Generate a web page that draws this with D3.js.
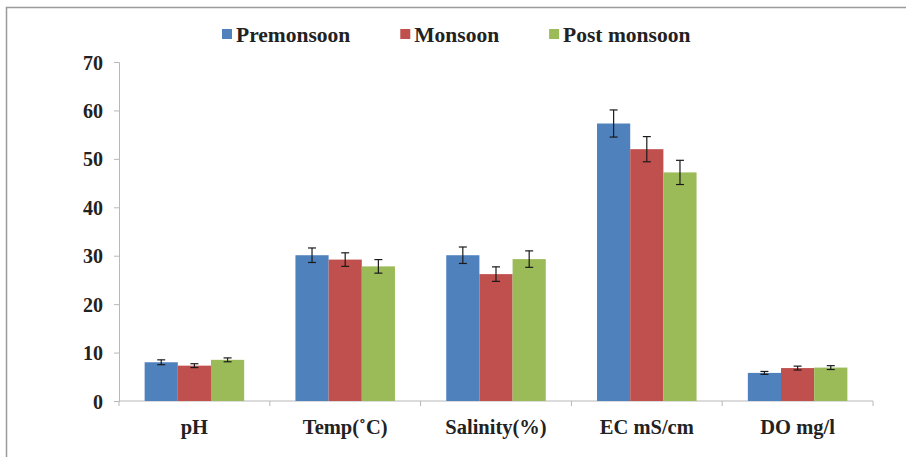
<!DOCTYPE html>
<html>
<head>
<meta charset="utf-8">
<script src="https://cdn.jsdelivr.net/npm/d3@7"></script>
<style>
  body { margin: 0; background: #fff; }
</style>
</head>
<body>
<div id="chart"></div>
<script>
// data
var categories = ["pH", "Temp(\u02DAC)", "Salinity(%)", "EC mS/cm", "DO mg/l"];
var seasons = ["Premonsoon", "Monsoon", "Post monsoon"];
var colors = ["#4F81BD", "#C0504D", "#9BBB59"];

var premonsoon = [8.0, 30.1, 30.1, 57.3, 5.8];
var monsoon = [7.3, 29.2, 26.2, 52.0, 6.8];
var postmonsoon = [8.5, 27.8, 29.3, 47.2, 6.9];

var premonsoonErr = [0.5, 1.5, 1.7, 2.8, 0.3];
var monsoonErr = [0.4, 1.4, 1.5, 2.6, 0.4];
var postmonsoonErr = [0.4, 1.4, 1.7, 2.5, 0.4];

var yTicks = [0, 10, 20, 30, 40, 50, 60, 70];

var series = [premonsoon, monsoon, postmonsoon];
var errors = [premonsoonErr, monsoonErr, postmonsoonErr];

var FONT = "'Liberation Serif', 'Times New Roman', Tinos, 'DejaVu Serif', serif";

var width = 906, height = 457;
var margin = {left: 119, right: 33, top: 62, bottom: 56};

var svg = d3.select("#chart").append("svg")
    .attr("width", width)
    .attr("height", height);

// outer frame
svg.append("rect")
    .attr("x", 6.5).attr("y", 7.5)
    .attr("width", width).attr("height", height)
    .attr("fill", "none")
    .attr("stroke", "#9a9a9a")
    .attr("stroke-width", 1.5);

var x = d3.scaleBand()
    .domain(categories)
    .range([margin.left, width - margin.right])
    .paddingInner(0.34)
    .paddingOuter(0.17);

var xs = d3.scaleBand()
    .domain(d3.range(seasons.length))
    .range([0, x.bandwidth()]);

var y = d3.scaleLinear()
    .domain([0, 70])
    .range([height - margin.bottom, margin.top]);

function styleText(sel, size) {
    sel.style("font-family", FONT)
        .style("font-weight", "bold")
        .style("font-size", size + "px")
        .attr("fill", "#222");
}

// y axis
var yAxis = svg.append("g")
    .attr("transform", "translate(" + margin.left + ",0)")
    .call(d3.axisLeft(y).tickValues(yTicks).tickSize(5).tickPadding(11).tickFormat(d3.format("d")));
yAxis.attr("font-family", null);
yAxis.selectAll("path, line").attr("stroke", "#b8b8b8");
yAxis.selectAll("text").attr("dy", "0.35em").call(styleText, 20);

// x axis, ticks on category borders
var step = x.step();
var xAxis = svg.append("g")
    .attr("transform", "translate(0," + y(0) + ")");
xAxis.append("line")
    .attr("x1", margin.left).attr("x2", width - margin.right)
    .attr("stroke", "#b8b8b8");
xAxis.selectAll("line.tick")
    .data(d3.range(categories.length + 1))
    .enter().append("line")
    .attr("class", "tick")
    .attr("x1", function(d) { return margin.left + d * step; })
    .attr("x2", function(d) { return margin.left + d * step; })
    .attr("y1", 0).attr("y2", 5)
    .attr("stroke", "#b8b8b8");
xAxis.selectAll("text")
    .data(categories)
    .enter().append("text")
    .attr("x", function(d) { return x(d) + x.bandwidth() / 2; })
    .attr("y", 33)
    .attr("text-anchor", "middle")
    .text(function(d) { return d; })
    .call(styleText, 20.5);

// bars
var groups = svg.selectAll("g.series")
    .data(series)
    .enter().append("g")
    .attr("class", "series")
    .attr("fill", function(d, i) { return colors[i]; });

groups.each(function(vals, si) {
    var g = d3.select(this);
    g.selectAll("rect")
        .data(vals)
        .enter().append("rect")
        .attr("x", function(d, ci) { return x(categories[ci]) + xs(si); })
        .attr("y", function(d) { return y(d); })
        .attr("width", xs.bandwidth())
        .attr("height", function(d) { return y(0) - y(d); });

    // error bars
    var eb = g.selectAll("g.err")
        .data(vals)
        .enter().append("g")
        .attr("class", "err")
        .attr("stroke", "#1a1a1a")
        .attr("stroke-width", 1.2);
    eb.append("line")
        .attr("x1", function(d, ci) { return x(categories[ci]) + xs(si) + xs.bandwidth() / 2; })
        .attr("x2", function(d, ci) { return x(categories[ci]) + xs(si) + xs.bandwidth() / 2; })
        .attr("y1", function(d, ci) { return y(d - errors[si][ci]); })
        .attr("y2", function(d, ci) { return y(d + errors[si][ci]); });
    [-1, 1].forEach(function(sgn) {
        eb.append("line")
            .attr("x1", function(d, ci) { return x(categories[ci]) + xs(si) + xs.bandwidth() / 2 - 4; })
            .attr("x2", function(d, ci) { return x(categories[ci]) + xs(si) + xs.bandwidth() / 2 + 4; })
            .attr("y1", function(d, ci) { return y(d + sgn * errors[si][ci]); })
            .attr("y2", function(d, ci) { return y(d + sgn * errors[si][ci]); });
    });
});

// legend
var legend = svg.append("g").attr("transform", "translate(222,34)");
var lx = 0;
seasons.forEach(function(s, i) {
    var item = legend.append("g").attr("transform", "translate(" + lx + ",0)");
    item.append("rect")
        .attr("x", 0).attr("y", -5)
        .attr("width", 10).attr("height", 10)
        .attr("fill", colors[i]);
    var t = item.append("text")
        .attr("x", 14).attr("dy", "0.35em")
        .text(s)
        .call(styleText, 21.5);
    lx += 14 + t.node().getComputedTextLength() + 50;
});
</script>
</body>
</html>
